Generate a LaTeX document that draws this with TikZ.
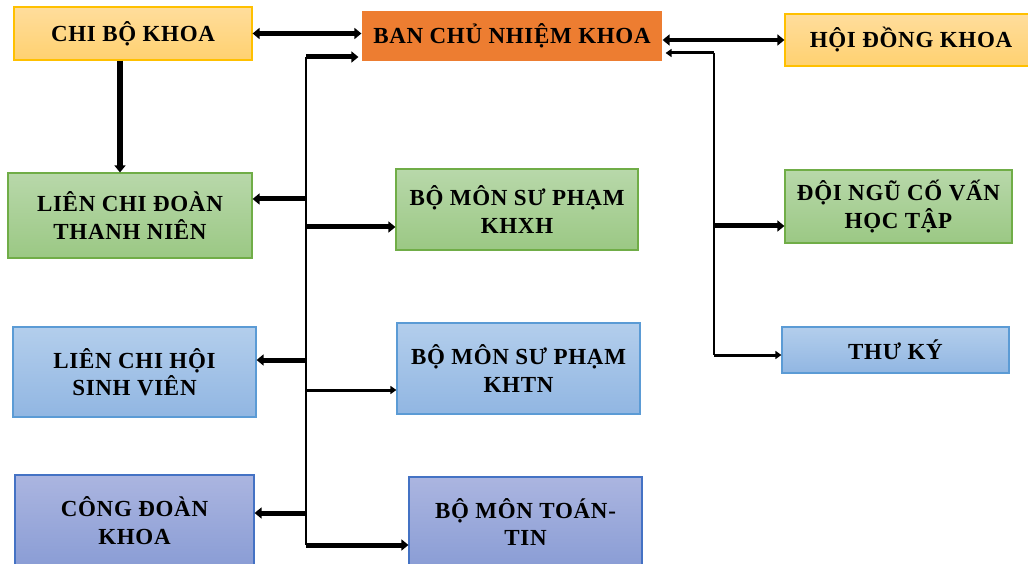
\documentclass[tikz,border=0pt]{standalone}
\usepackage{fontspec}
\setmainfont{Liberation Serif}
\newfontfamily\boxfont[LetterSpace=3]{Liberation Serif}
\usetikzlibrary{arrows.meta,calc}
\definecolor{orgT}{HTML}{FFDD9C}
\definecolor{orgB}{HTML}{FFD170}
\definecolor{orgD}{HTML}{FFC000}
\definecolor{banC}{HTML}{ED7D31}
\definecolor{grnT}{HTML}{B8D8AA}
\definecolor{grnB}{HTML}{9BC884}
\definecolor{grnD}{HTML}{70AD47}
\definecolor{bluT}{HTML}{B3CEEC}
\definecolor{bluB}{HTML}{91B6E2}
\definecolor{bluD}{HTML}{5B9BD5}
\definecolor{lavT}{HTML}{ABB5E0}
\definecolor{lavB}{HTML}{8A9DD5}
\definecolor{lavD}{HTML}{4472C4}
\tikzset{
  box/.style={align=center, inner sep=0pt, line width=1.2pt,
    font=\boxfont\bfseries\fontsize{23}{27.5}\selectfont, text=black},
  orgbox/.style={box, draw=orgD, top color=orgT, bottom color=orgB},
  grnbox/.style={box, draw=grnD, top color=grnT, bottom color=grnB},
  blubox/.style={box, draw=bluD, top color=bluT, bottom color=bluB},
  lavbox/.style={box, draw=lavD, top color=lavT, bottom color=lavB},
  arr/.style={line width=5pt, -{Triangle[length=7pt,width=11pt]}},
  thinarr/.style={line width=3pt, -{Triangle[length=6pt,width=8pt]}},
  dblarr/.style={line width=4.5pt, {Triangle[length=7pt,width=11pt]}-{Triangle[length=7pt,width=11pt]}},
  bus/.style={line width=2pt}
}
\begin{document}
\begin{tikzpicture}[x=1pt,y=-1pt]
\useasboundingbox (0,0) rectangle (1028,564);
\fill[white] (0,0) rectangle (1028,564);

\node[orgbox, minimum width=238pt, minimum height=53pt] (chibo) at (133,33.5) {CHI BỘ KHOA};
\node[box, fill=banC, minimum width=300pt, minimum height=50pt] (ban) at (512,36) {BAN CHỦ NHIỆM KHOA};
\node[orgbox, minimum width=252pt, minimum height=52pt] (hoidong) at (911,40) {HỘI ĐỒNG KHOA};

\node[grnbox, minimum width=244pt, minimum height=85pt] (lcd) at (130,215.5) {LIÊN CHI ĐOÀN\\THANH NIÊN};
\node[grnbox, minimum width=242pt, minimum height=81pt] (khxh) at (517,209.5) {BỘ MÔN SƯ PHẠM\\KHXH};
\node[grnbox, minimum width=227pt, minimum height=73pt] (doingu) at (898.5,206.5) {ĐỘI NGŨ CỐ VẤN\\HỌC TẬP};

\node[blubox, minimum width=243pt, minimum height=90pt] (lch) at (134.5,372) {LIÊN CHI HỘI\\SINH VIÊN};
\node[blubox, minimum width=243pt, minimum height=91pt] (khtn) at (518.5,368.5) {BỘ MÔN SƯ PHẠM\\KHTN};
\node[blubox, minimum width=227pt, minimum height=46pt] (thuky) at (895.5,350) {THƯ KÝ};

\node[lavbox, minimum width=239pt, minimum height=91pt] (congdoan) at (134.5,520.5) {CÔNG ĐOÀN\\KHOA};
\node[lavbox, minimum width=233pt, minimum height=90pt] (toantin) at (525.5,522) {BỘ MÔN TOÁN-\\TIN};

% top connectors
\draw[dblarr] (chibo.east) -- (chibo.east -| ban.west);
\draw[dblarr] (ban.east |- hoidong.west) -- (hoidong.west);
\draw[arr, line width=6pt] ([xshift=-13pt]chibo.south) -- ([xshift=-13pt]chibo.south |- lcd.north);

% left bus
\coordinate (t0) at (306,57);
\coordinate (t1) at (306,199);
\coordinate (t2) at (306,227);
\coordinate (t3) at (306,360);
\coordinate (t4) at (306,390);
\coordinate (t5) at (306,513);
\coordinate (t6) at (306,545);
\draw[bus] (t0) -- (t6);
\draw[arr, shorten >=3pt] (t0) -- (t0 -| ban.west);
\draw[arr] (t1) -- (t1 -| lcd.east);
\draw[arr] (t2) -- (t2 -| khxh.west);
\draw[arr] (t3) -- (t3 -| lch.east);
\draw[thinarr] (t4) -- (t4 -| khtn.west);
\draw[arr] (t5) -- (t5 -| congdoan.east);
\draw[arr] (t6) -- (t6 -| toantin.west);

% right bus
\coordinate (r0) at (714,53);
\coordinate (r1) at (714,226);
\coordinate (r2) at (714,355);
\draw[bus] (r0) -- (r2);
\draw[thinarr, shorten >=3pt] (r0) -- (r0 -| ban.east);
\draw[arr] (r1) -- (r1 -| doingu.west);
\draw[thinarr] (r2) -- (r2 -| thuky.west);
\end{tikzpicture}
\end{document}
